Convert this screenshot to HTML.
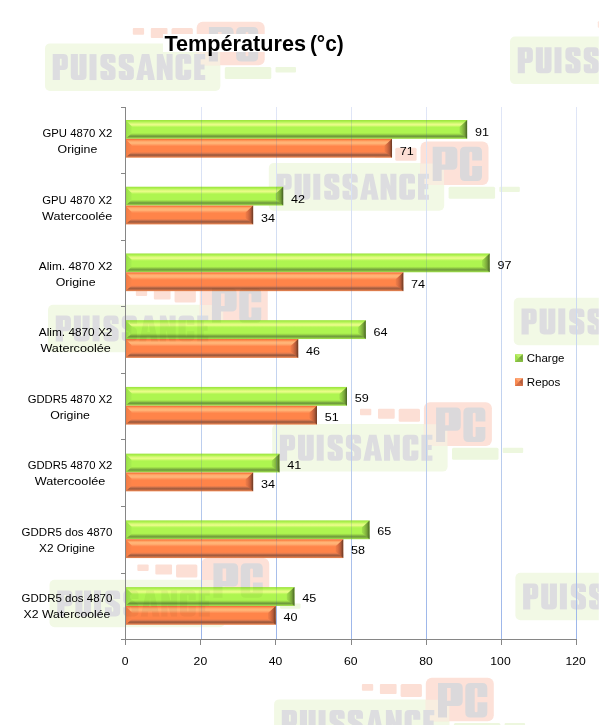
<!DOCTYPE html>
<html><head><meta charset="utf-8"><title>Températures</title>
<style>html,body{margin:0;padding:0;background:#fff}svg{display:block}text{font-family:"Liberation Sans", sans-serif}</style></head><body>
<svg width="600" height="725" viewBox="0 0 600 725">
<defs>
<linearGradient id="gG" x1="0" y1="0" x2="0" y2="1">
<stop offset="0.0000" stop-color="#9ce03c"/>
<stop offset="0.0531" stop-color="#a6ec48"/>
<stop offset="0.1061" stop-color="#b4f455"/>
<stop offset="0.1592" stop-color="#d0f870"/>
<stop offset="0.2387" stop-color="#e8fc88"/>
<stop offset="0.2759" stop-color="#e4fc84"/>
<stop offset="0.3342" stop-color="#c4f864"/>
<stop offset="0.3979" stop-color="#aef550"/>
<stop offset="0.6897" stop-color="#aef550"/>
<stop offset="0.7639" stop-color="#98d446"/>
<stop offset="0.8276" stop-color="#7aaa40"/>
<stop offset="0.8753" stop-color="#6f9a3c"/>
<stop offset="0.9284" stop-color="#88c040"/>
<stop offset="1.0000" stop-color="#a4e652"/>
</linearGradient>
<linearGradient id="gO" x1="0" y1="0" x2="0" y2="1">
<stop offset="0.0000" stop-color="#f06a38"/>
<stop offset="0.0531" stop-color="#fa8045"/>
<stop offset="0.1061" stop-color="#ffa060"/>
<stop offset="0.1751" stop-color="#ffb478"/>
<stop offset="0.2546" stop-color="#ffb274"/>
<stop offset="0.3183" stop-color="#ff9a60"/>
<stop offset="0.3979" stop-color="#ff8449"/>
<stop offset="0.6897" stop-color="#ff8449"/>
<stop offset="0.7639" stop-color="#e07a4e"/>
<stop offset="0.8276" stop-color="#aa6242"/>
<stop offset="0.8753" stop-color="#a05a3c"/>
<stop offset="0.9284" stop-color="#c87048"/>
<stop offset="1.0000" stop-color="#f08850"/>
</linearGradient>
<linearGradient id="rG" x1="0" y1="0" x2="1" y2="0">
<stop offset="0.0000" stop-color="#9fe04c"/>
<stop offset="0.3000" stop-color="#90ca44"/>
<stop offset="0.6500" stop-color="#78a43a"/>
<stop offset="0.8800" stop-color="#587a2c"/>
<stop offset="1.0000" stop-color="#425e22"/>
</linearGradient>
<linearGradient id="rO" x1="0" y1="0" x2="1" y2="0">
<stop offset="0.0000" stop-color="#f27e48"/>
<stop offset="0.3000" stop-color="#de7042"/>
<stop offset="0.6500" stop-color="#b65c3a"/>
<stop offset="0.8800" stop-color="#86462c"/>
<stop offset="1.0000" stop-color="#643420"/>
</linearGradient>
<linearGradient id="lG" x1="0" y1="0" x2="1" y2="0">
<stop offset="0.0000" stop-color="#98d846"/>
<stop offset="0.3000" stop-color="#a0e64c"/>
<stop offset="1.0000" stop-color="#a8ee50"/>
</linearGradient>
<linearGradient id="lO" x1="0" y1="0" x2="1" y2="0">
<stop offset="0.0000" stop-color="#ee7a44"/>
<stop offset="0.3000" stop-color="#f68048"/>
<stop offset="1.0000" stop-color="#fc844a"/>
</linearGradient>
<linearGradient id="gl" gradientUnits="userSpaceOnUse" x1="0" y1="107.00" x2="0" y2="639.50">
<stop offset="0" stop-color="#e0e6f7"/><stop offset="0.25" stop-color="#d3def3"/><stop offset="0.5" stop-color="#c4d4f0"/><stop offset="0.75" stop-color="#b4c8ec"/><stop offset="1" stop-color="#9bb5ea"/>
</linearGradient>
<linearGradient id="sG" x1="0" y1="0" x2="0" y2="1">
<stop offset="0.0000" stop-color="#b6f060"/>
<stop offset="0.5000" stop-color="#98d444"/>
<stop offset="1.0000" stop-color="#6a9a34"/>
</linearGradient>
<linearGradient id="sO" x1="0" y1="0" x2="0" y2="1">
<stop offset="0.0000" stop-color="#ffa070"/>
<stop offset="0.5000" stop-color="#ee7c48"/>
<stop offset="1.0000" stop-color="#a85a38"/>
</linearGradient>
<g id="wmP" transform="translate(-144,32.4)" fill-rule="evenodd">
<path transform="translate(0.00,0) scale(1.0667,1.0097)" d="M0,0H10Q14.25,0 14.25,4.25V11.5Q14.25,15.75 10,15.75H6.75V25.75H0Z M6.75,4.5H8.4V11.25H6.75Z"/>
<path transform="translate(18.10,0) scale(1.0500,1.0097)" d="M0,0H6.75V20Q6.75,21 7.5,21Q8.25,21 8.25,20V0H15V21.5Q15,25.75 10.75,25.75H4.25Q0,25.75 0,21.5Z"/>
<path transform="translate(36.80,0) scale(1.0370,1.0097)" d="M0,0H6.75V25.75H0Z"/>
<path transform="translate(47.70,0) scale(1.0133,1.0097)" d="M4.25,0H10.75Q15,0 15,4.25V8.6H8.25V5.5Q8.25,4.5 7.5,4.5Q6.75,4.5 6.75,5.5V7Q6.75,8.4 8.2,9.3L13,12.2Q15,13.4 15,16V21.5Q15,25.75 10.75,25.75H4.25Q0,25.75 0,21.5V16.8H6.75V20.25Q6.75,21.25 7.5,21.25Q8.25,21.25 8.25,20.25V18Q8.25,16.8 6.9,16L2,13.2Q0,12 0,10V4.25Q0,0 4.25,0Z"/>
<path transform="translate(66.00,0) scale(1.0133,1.0097)" d="M4.25,0H10.75Q15,0 15,4.25V8.6H8.25V5.5Q8.25,4.5 7.5,4.5Q6.75,4.5 6.75,5.5V7Q6.75,8.4 8.2,9.3L13,12.2Q15,13.4 15,16V21.5Q15,25.75 10.75,25.75H4.25Q0,25.75 0,21.5V16.8H6.75V20.25Q6.75,21.25 7.5,21.25Q8.25,21.25 8.25,20.25V18Q8.25,16.8 6.9,16L2,13.2Q0,12 0,10V4.25Q0,0 4.25,0Z"/>
<path transform="translate(83.50,0) scale(1.0389,1.0097)" d="M5.4,0H12.6L18,25.75H11.4L10.8,20.6H7.2L6.6,25.75H0Z M9,7L10.3,16.4H7.7Z"/>
<path transform="translate(104.10,0) scale(1.0032,1.0097)" d="M0,0H6L9.7,12V0H15.75V25.75H9.8L6.05,13.6V25.75H0Z"/>
<path transform="translate(122.80,0) scale(1.0467,1.0097)" d="M4.25,0H10.75Q15,0 15,4.25V9.6H8.25V5.5Q8.25,4.5 7.5,4.5Q6.75,4.5 6.75,5.5V20.25Q6.75,21.25 7.5,21.25Q8.25,21.25 8.25,20.25V15.6H15V21.5Q15,25.75 10.75,25.75H4.25Q0,25.75 0,21.5V4.25Q0,0 4.25,0Z"/>
<path transform="translate(141.50,0) scale(0.9565,1.0097)" d="M0,0H11.5V5H6.75V10.2H10.8V15.2H6.75V20.7H11.5V25.75H0Z"/>
</g>
<g id="wmC" fill-rule="evenodd">
<path d="M12.2,5.3H32Q36.9,5.3 36.9,10.3V23.4Q36.9,28.4 32,28.4H21.2V39.7H12.2Z M21.3,10.4H24.9V23H21.3Z"/>
<path d="M44.5,5.3H56.5Q61.5,5.3 61.5,10.3V19.2H51.7V11.4Q51.7,10.4 50.3,10.4Q48.9,10.4 48.9,11.4V33.6Q48.9,34.6 50.3,34.6Q51.7,34.6 51.7,33.6V24.6H61.5V34.7Q61.5,39.7 56.5,39.7H44.5Q39.5,39.7 39.5,34.7V10.3Q39.5,5.3 44.5,5.3Z"/>
</g>
<g id="wm">
<rect x="-151.7" y="21.7" width="175.4" height="47.6" rx="5" ry="5" fill="#f2f9e5"/>
<rect x="28.1" y="45.4" width="46.5" height="12" rx="1.5" fill="#edf7de"/>
<rect x="78.8" y="45.4" width="20.5" height="5.3" rx="1" fill="#edf7de"/>
<rect x="-63.9" y="6.4" width="11.3" height="6.6" rx="1" fill="#fcdfd5"/>
<rect x="-45.9" y="6.4" width="16.7" height="10" rx="1" fill="#fcdfd5"/>
<rect x="-25.2" y="6.4" width="21.3" height="13" rx="1.5" fill="#fcdfd5"/>
<rect x="0" y="0" width="68" height="43.6" rx="6" ry="6" fill="#fde1d8"/>
<path d="M0,22H18.5Q23.5,22 23.5,27V43.6H6Q0,43.6 0,37.6Z" fill="#f8eee0"/>
<use href="#wmP" fill="#dddde0"/>
<use href="#wmC" fill="#dbd9db"/>
</g>
<clipPath id="barclip">
<rect x="126" y="120.00" width="341.11" height="18.85"/>
<rect x="126" y="138.85" width="266.03" height="18.85"/>
<rect x="126" y="186.73" width="157.17" height="18.85"/>
<rect x="126" y="205.58" width="127.14" height="18.85"/>
<rect x="126" y="253.46" width="363.64" height="18.85"/>
<rect x="126" y="272.31" width="277.30" height="18.85"/>
<rect x="126" y="320.19" width="239.76" height="18.85"/>
<rect x="126" y="339.04" width="172.18" height="18.85"/>
<rect x="126" y="386.92" width="220.99" height="18.85"/>
<rect x="126" y="405.77" width="190.95" height="18.85"/>
<rect x="126" y="453.65" width="153.41" height="18.85"/>
<rect x="126" y="472.50" width="127.14" height="18.85"/>
<rect x="126" y="520.38" width="243.51" height="18.85"/>
<rect x="126" y="539.23" width="217.23" height="18.85"/>
<rect x="126" y="587.11" width="168.43" height="18.85"/>
<rect x="126" y="605.96" width="149.66" height="18.85"/>
</clipPath>
<filter id="soft" filterUnits="userSpaceOnUse" x="-10" y="-10" width="620" height="745"><feGaussianBlur stdDeviation="0.5"/></filter>
</defs>
<rect width="600" height="725" fill="#fff"/>
<g filter="url(#soft)">
<use href="#wm" x="196.70" y="21.70"/>
<use href="#wm" x="661.70" y="14.80"/>
<use href="#wm" x="420.50" y="141.40"/>
<use href="#wm" x="199.75" y="283.00"/>
<use href="#wm" x="665.50" y="276.00"/>
<use href="#wm" x="423.90" y="402.30"/>
<use href="#wm" x="201.25" y="558.00"/>
<use href="#wm" x="667.10" y="551.00"/>
<use href="#wm" x="425.80" y="677.70"/>
</g>
<rect x="598.8" y="0" width="1.2" height="725" fill="#fff"/>
<rect x="163" y="34" width="186" height="18" fill="#fff"/>
<text x="164.4" y="50.9" font-size="21.5" font-weight="bold" fill="#000" textLength="141.6" lengthAdjust="spacingAndGlyphs">Températures</text>
<text x="309.9" y="50.9" font-size="21.5" font-weight="bold" fill="#000" textLength="33.8" lengthAdjust="spacingAndGlyphs">(°c)</text>
<rect x="201" y="107.00" width="1" height="532.50" fill="url(#gl)"/>
<rect x="276" y="107.00" width="1" height="532.50" fill="url(#gl)"/>
<rect x="351" y="107.00" width="1" height="532.50" fill="url(#gl)"/>
<rect x="426" y="107.00" width="1" height="532.50" fill="url(#gl)"/>
<rect x="501" y="107.00" width="1" height="532.50" fill="url(#gl)"/>
<rect x="576" y="107.00" width="1" height="532.50" fill="url(#gl)"/>
<rect x="126.00" y="120.00" width="341.11" height="18.85" fill="url(#gG)"/>
<polygon points="126.00,120.60 131.60,126.30 131.60,133.25 126.00,138.45" fill="url(#lG)"/>
<polygon points="467.11,120.00 467.11,138.85 459.51,132.45 459.51,127.00" fill="url(#rG)"/>
<rect x="126.00" y="138.85" width="266.03" height="18.85" fill="url(#gO)"/>
<polygon points="126.00,139.45 131.60,145.15 131.60,152.10 126.00,157.30" fill="url(#lO)"/>
<polygon points="392.03,138.85 392.03,157.70 384.43,151.30 384.43,145.85" fill="url(#rO)"/>
<rect x="201" y="120.00" width="1" height="18.85" fill="#4060b0" opacity="0.17"/>
<rect x="201" y="138.85" width="1" height="18.85" fill="#4060b0" opacity="0.17"/>
<rect x="276" y="120.00" width="1" height="18.85" fill="#4060b0" opacity="0.17"/>
<rect x="276" y="138.85" width="1" height="18.85" fill="#4060b0" opacity="0.17"/>
<rect x="351" y="120.00" width="1" height="18.85" fill="#4060b0" opacity="0.17"/>
<rect x="351" y="138.85" width="1" height="18.85" fill="#4060b0" opacity="0.17"/>
<rect x="426" y="120.00" width="1" height="18.85" fill="#4060b0" opacity="0.17"/>
<rect x="126.00" y="186.73" width="157.17" height="18.85" fill="url(#gG)"/>
<polygon points="126.00,187.33 131.60,193.03 131.60,199.98 126.00,205.18" fill="url(#lG)"/>
<polygon points="283.17,186.73 283.17,205.58 275.57,199.18 275.57,193.73" fill="url(#rG)"/>
<rect x="126.00" y="205.58" width="127.14" height="18.85" fill="url(#gO)"/>
<polygon points="126.00,206.18 131.60,211.88 131.60,218.83 126.00,224.03" fill="url(#lO)"/>
<polygon points="253.14,205.58 253.14,224.43 245.54,218.03 245.54,212.58" fill="url(#rO)"/>
<rect x="201" y="186.73" width="1" height="18.85" fill="#4060b0" opacity="0.17"/>
<rect x="201" y="205.58" width="1" height="18.85" fill="#4060b0" opacity="0.17"/>
<rect x="276" y="186.73" width="1" height="18.85" fill="#4060b0" opacity="0.17"/>
<rect x="126.00" y="253.46" width="363.64" height="18.85" fill="url(#gG)"/>
<polygon points="126.00,254.06 131.60,259.76 131.60,266.71 126.00,271.91" fill="url(#lG)"/>
<polygon points="489.64,253.46 489.64,272.31 482.04,265.91 482.04,260.46" fill="url(#rG)"/>
<rect x="126.00" y="272.31" width="277.30" height="18.85" fill="url(#gO)"/>
<polygon points="126.00,272.91 131.60,278.61 131.60,285.56 126.00,290.76" fill="url(#lO)"/>
<polygon points="403.30,272.31 403.30,291.16 395.70,284.76 395.70,279.31" fill="url(#rO)"/>
<rect x="201" y="253.46" width="1" height="18.85" fill="#4060b0" opacity="0.17"/>
<rect x="201" y="272.31" width="1" height="18.85" fill="#4060b0" opacity="0.17"/>
<rect x="276" y="253.46" width="1" height="18.85" fill="#4060b0" opacity="0.17"/>
<rect x="276" y="272.31" width="1" height="18.85" fill="#4060b0" opacity="0.17"/>
<rect x="351" y="253.46" width="1" height="18.85" fill="#4060b0" opacity="0.17"/>
<rect x="351" y="272.31" width="1" height="18.85" fill="#4060b0" opacity="0.17"/>
<rect x="426" y="253.46" width="1" height="18.85" fill="#4060b0" opacity="0.17"/>
<rect x="126.00" y="320.19" width="239.76" height="18.85" fill="url(#gG)"/>
<polygon points="126.00,320.79 131.60,326.49 131.60,333.44 126.00,338.64" fill="url(#lG)"/>
<polygon points="365.76,320.19 365.76,339.04 358.16,332.64 358.16,327.19" fill="url(#rG)"/>
<rect x="126.00" y="339.04" width="172.18" height="18.85" fill="url(#gO)"/>
<polygon points="126.00,339.64 131.60,345.34 131.60,352.29 126.00,357.49" fill="url(#lO)"/>
<polygon points="298.18,339.04 298.18,357.89 290.58,351.49 290.58,346.04" fill="url(#rO)"/>
<rect x="201" y="320.19" width="1" height="18.85" fill="#4060b0" opacity="0.17"/>
<rect x="201" y="339.04" width="1" height="18.85" fill="#4060b0" opacity="0.17"/>
<rect x="276" y="320.19" width="1" height="18.85" fill="#4060b0" opacity="0.17"/>
<rect x="276" y="339.04" width="1" height="18.85" fill="#4060b0" opacity="0.17"/>
<rect x="351" y="320.19" width="1" height="18.85" fill="#4060b0" opacity="0.17"/>
<rect x="126.00" y="386.92" width="220.99" height="18.85" fill="url(#gG)"/>
<polygon points="126.00,387.52 131.60,393.22 131.60,400.17 126.00,405.37" fill="url(#lG)"/>
<polygon points="346.99,386.92 346.99,405.77 339.39,399.37 339.39,393.92" fill="url(#rG)"/>
<rect x="126.00" y="405.77" width="190.95" height="18.85" fill="url(#gO)"/>
<polygon points="126.00,406.37 131.60,412.07 131.60,419.02 126.00,424.22" fill="url(#lO)"/>
<polygon points="316.95,405.77 316.95,424.62 309.35,418.22 309.35,412.77" fill="url(#rO)"/>
<rect x="201" y="386.92" width="1" height="18.85" fill="#4060b0" opacity="0.17"/>
<rect x="201" y="405.77" width="1" height="18.85" fill="#4060b0" opacity="0.17"/>
<rect x="276" y="386.92" width="1" height="18.85" fill="#4060b0" opacity="0.17"/>
<rect x="276" y="405.77" width="1" height="18.85" fill="#4060b0" opacity="0.17"/>
<rect x="126.00" y="453.65" width="153.41" height="18.85" fill="url(#gG)"/>
<polygon points="126.00,454.25 131.60,459.95 131.60,466.90 126.00,472.10" fill="url(#lG)"/>
<polygon points="279.41,453.65 279.41,472.50 271.81,466.10 271.81,460.65" fill="url(#rG)"/>
<rect x="126.00" y="472.50" width="127.14" height="18.85" fill="url(#gO)"/>
<polygon points="126.00,473.10 131.60,478.80 131.60,485.75 126.00,490.95" fill="url(#lO)"/>
<polygon points="253.14,472.50 253.14,491.35 245.54,484.95 245.54,479.50" fill="url(#rO)"/>
<rect x="201" y="453.65" width="1" height="18.85" fill="#4060b0" opacity="0.17"/>
<rect x="201" y="472.50" width="1" height="18.85" fill="#4060b0" opacity="0.17"/>
<rect x="276" y="453.65" width="1" height="18.85" fill="#4060b0" opacity="0.17"/>
<rect x="126.00" y="520.38" width="243.51" height="18.85" fill="url(#gG)"/>
<polygon points="126.00,520.98 131.60,526.68 131.60,533.63 126.00,538.83" fill="url(#lG)"/>
<polygon points="369.51,520.38 369.51,539.23 361.91,532.83 361.91,527.38" fill="url(#rG)"/>
<rect x="126.00" y="539.23" width="217.23" height="18.85" fill="url(#gO)"/>
<polygon points="126.00,539.83 131.60,545.53 131.60,552.48 126.00,557.68" fill="url(#lO)"/>
<polygon points="343.23,539.23 343.23,558.08 335.63,551.68 335.63,546.23" fill="url(#rO)"/>
<rect x="201" y="520.38" width="1" height="18.85" fill="#4060b0" opacity="0.17"/>
<rect x="201" y="539.23" width="1" height="18.85" fill="#4060b0" opacity="0.17"/>
<rect x="276" y="520.38" width="1" height="18.85" fill="#4060b0" opacity="0.17"/>
<rect x="276" y="539.23" width="1" height="18.85" fill="#4060b0" opacity="0.17"/>
<rect x="351" y="520.38" width="1" height="18.85" fill="#4060b0" opacity="0.17"/>
<rect x="126.00" y="587.11" width="168.43" height="18.85" fill="url(#gG)"/>
<polygon points="126.00,587.71 131.60,593.41 131.60,600.36 126.00,605.56" fill="url(#lG)"/>
<polygon points="294.43,587.11 294.43,605.96 286.83,599.56 286.83,594.11" fill="url(#rG)"/>
<rect x="126.00" y="605.96" width="149.66" height="18.85" fill="url(#gO)"/>
<polygon points="126.00,606.56 131.60,612.26 131.60,619.21 126.00,624.41" fill="url(#lO)"/>
<polygon points="275.66,605.96 275.66,624.81 268.06,618.41 268.06,612.96" fill="url(#rO)"/>
<rect x="201" y="587.11" width="1" height="18.85" fill="#4060b0" opacity="0.17"/>
<rect x="201" y="605.96" width="1" height="18.85" fill="#4060b0" opacity="0.17"/>
<rect x="276" y="587.11" width="1" height="18.85" fill="#4060b0" opacity="0.17"/>
<g clip-path="url(#barclip)" fill="#1c2a10" opacity="0.05">
<use href="#wmP" x="196.70" y="21.70"/><use href="#wmC" x="196.70" y="21.70"/>
<use href="#wmP" x="661.70" y="14.80"/><use href="#wmC" x="661.70" y="14.80"/>
<use href="#wmP" x="420.50" y="141.40"/><use href="#wmC" x="420.50" y="141.40"/>
<use href="#wmP" x="199.75" y="283.00"/><use href="#wmC" x="199.75" y="283.00"/>
<use href="#wmP" x="665.50" y="276.00"/><use href="#wmC" x="665.50" y="276.00"/>
<use href="#wmP" x="423.90" y="402.30"/><use href="#wmC" x="423.90" y="402.30"/>
<use href="#wmP" x="201.25" y="558.00"/><use href="#wmC" x="201.25" y="558.00"/>
<use href="#wmP" x="667.10" y="551.00"/><use href="#wmC" x="667.10" y="551.00"/>
<use href="#wmP" x="425.80" y="677.70"/><use href="#wmC" x="425.80" y="677.70"/>
</g>
<rect x="125" y="107.00" width="1" height="533.00" fill="#868686"/>
<rect x="121" y="639" width="456" height="1" fill="#868686"/>
<rect x="121" y="107" width="4.5" height="1" fill="#868686"/>
<rect x="121" y="173" width="4.5" height="1" fill="#868686"/>
<rect x="121" y="240" width="4.5" height="1" fill="#868686"/>
<rect x="121" y="306" width="4.5" height="1" fill="#868686"/>
<rect x="121" y="373" width="4.5" height="1" fill="#868686"/>
<rect x="121" y="439" width="4.5" height="1" fill="#868686"/>
<rect x="121" y="506" width="4.5" height="1" fill="#868686"/>
<rect x="121" y="573" width="4.5" height="1" fill="#868686"/>
<rect x="125" y="640" width="1" height="5" fill="#868686"/>
<rect x="200" y="640" width="1" height="5" fill="#868686"/>
<rect x="275" y="640" width="1" height="5" fill="#868686"/>
<rect x="351" y="640" width="1" height="5" fill="#868686"/>
<rect x="426" y="640" width="1" height="5" fill="#868686"/>
<rect x="501" y="640" width="1" height="5" fill="#868686"/>
<rect x="576" y="640" width="1" height="5" fill="#868686"/>
<text x="42.50" y="137.10" font-size="11.7" font-weight="normal" fill="#000" textLength="69.90" lengthAdjust="spacingAndGlyphs">GPU 4870 X2</text>
<text x="57.55" y="153.10" font-size="11.7" font-weight="normal" fill="#000" textLength="39.80" lengthAdjust="spacingAndGlyphs">Origine</text>
<text x="42.25" y="203.52" font-size="11.7" font-weight="normal" fill="#000" textLength="69.90" lengthAdjust="spacingAndGlyphs">GPU 4870 X2</text>
<text x="42.00" y="219.52" font-size="11.7" font-weight="normal" fill="#000" textLength="70.40" lengthAdjust="spacingAndGlyphs">Watercoolée</text>
<text x="38.85" y="269.94" font-size="11.7" font-weight="normal" fill="#000" textLength="73.55" lengthAdjust="spacingAndGlyphs">Alim. 4870 X2</text>
<text x="55.73" y="285.94" font-size="11.7" font-weight="normal" fill="#000" textLength="39.80" lengthAdjust="spacingAndGlyphs">Origine</text>
<text x="38.85" y="336.36" font-size="11.7" font-weight="normal" fill="#000" textLength="73.55" lengthAdjust="spacingAndGlyphs">Alim. 4870 X2</text>
<text x="40.43" y="352.36" font-size="11.7" font-weight="normal" fill="#000" textLength="70.40" lengthAdjust="spacingAndGlyphs">Watercoolée</text>
<text x="27.70" y="402.78" font-size="11.7" font-weight="normal" fill="#000" textLength="84.70" lengthAdjust="spacingAndGlyphs">GDDR5 4870 X2</text>
<text x="50.15" y="418.78" font-size="11.7" font-weight="normal" fill="#000" textLength="39.80" lengthAdjust="spacingAndGlyphs">Origine</text>
<text x="27.70" y="469.20" font-size="11.7" font-weight="normal" fill="#000" textLength="84.70" lengthAdjust="spacingAndGlyphs">GDDR5 4870 X2</text>
<text x="34.85" y="485.20" font-size="11.7" font-weight="normal" fill="#000" textLength="70.40" lengthAdjust="spacingAndGlyphs">Watercoolée</text>
<text x="21.60" y="535.62" font-size="11.7" font-weight="normal" fill="#000" textLength="90.80" lengthAdjust="spacingAndGlyphs">GDDR5 dos 4870</text>
<text x="39.10" y="551.62" font-size="11.7" font-weight="normal" fill="#000" textLength="55.80" lengthAdjust="spacingAndGlyphs">X2 Origine</text>
<text x="21.60" y="602.04" font-size="11.7" font-weight="normal" fill="#000" textLength="90.80" lengthAdjust="spacingAndGlyphs">GDDR5 dos 4870</text>
<text x="23.60" y="618.04" font-size="11.7" font-weight="normal" fill="#000" textLength="86.80" lengthAdjust="spacingAndGlyphs">X2 Watercoolée</text>
<text x="121.82" y="664.90" font-size="11.8" font-weight="normal" fill="#000" textLength="6.76" lengthAdjust="spacingAndGlyphs">0</text>
<text x="193.64" y="664.90" font-size="11.8" font-weight="normal" fill="#000" textLength="13.52" lengthAdjust="spacingAndGlyphs">20</text>
<text x="268.84" y="664.90" font-size="11.8" font-weight="normal" fill="#000" textLength="13.52" lengthAdjust="spacingAndGlyphs">40</text>
<text x="344.04" y="664.90" font-size="11.8" font-weight="normal" fill="#000" textLength="13.52" lengthAdjust="spacingAndGlyphs">60</text>
<text x="419.24" y="664.90" font-size="11.8" font-weight="normal" fill="#000" textLength="13.52" lengthAdjust="spacingAndGlyphs">80</text>
<text x="490.36" y="664.90" font-size="11.8" font-weight="normal" fill="#000" textLength="20.28" lengthAdjust="spacingAndGlyphs">100</text>
<text x="565.56" y="664.90" font-size="11.8" font-weight="normal" fill="#000" textLength="20.28" lengthAdjust="spacingAndGlyphs">120</text>
<text x="474.91" y="136.00" font-size="11.8" font-weight="normal" fill="#000" textLength="14.00" lengthAdjust="spacingAndGlyphs">91</text>
<text x="399.83" y="155.00" font-size="11.8" font-weight="normal" fill="#000" textLength="14.00" lengthAdjust="spacingAndGlyphs">71</text>
<text x="290.97" y="202.54" font-size="11.8" font-weight="normal" fill="#000" textLength="14.00" lengthAdjust="spacingAndGlyphs">42</text>
<text x="260.94" y="221.54" font-size="11.8" font-weight="normal" fill="#000" textLength="14.00" lengthAdjust="spacingAndGlyphs">34</text>
<text x="497.44" y="269.08" font-size="11.8" font-weight="normal" fill="#000" textLength="14.00" lengthAdjust="spacingAndGlyphs">97</text>
<text x="411.10" y="288.08" font-size="11.8" font-weight="normal" fill="#000" textLength="14.00" lengthAdjust="spacingAndGlyphs">74</text>
<text x="373.56" y="335.62" font-size="11.8" font-weight="normal" fill="#000" textLength="14.00" lengthAdjust="spacingAndGlyphs">64</text>
<text x="305.98" y="354.62" font-size="11.8" font-weight="normal" fill="#000" textLength="14.00" lengthAdjust="spacingAndGlyphs">46</text>
<text x="354.79" y="402.16" font-size="11.8" font-weight="normal" fill="#000" textLength="14.00" lengthAdjust="spacingAndGlyphs">59</text>
<text x="324.75" y="421.16" font-size="11.8" font-weight="normal" fill="#000" textLength="14.00" lengthAdjust="spacingAndGlyphs">51</text>
<text x="287.21" y="468.70" font-size="11.8" font-weight="normal" fill="#000" textLength="14.00" lengthAdjust="spacingAndGlyphs">41</text>
<text x="260.94" y="487.70" font-size="11.8" font-weight="normal" fill="#000" textLength="14.00" lengthAdjust="spacingAndGlyphs">34</text>
<text x="377.31" y="535.24" font-size="11.8" font-weight="normal" fill="#000" textLength="14.00" lengthAdjust="spacingAndGlyphs">65</text>
<text x="351.03" y="554.24" font-size="11.8" font-weight="normal" fill="#000" textLength="14.00" lengthAdjust="spacingAndGlyphs">58</text>
<text x="302.23" y="601.78" font-size="11.8" font-weight="normal" fill="#000" textLength="14.00" lengthAdjust="spacingAndGlyphs">45</text>
<text x="283.46" y="620.78" font-size="11.8" font-weight="normal" fill="#000" textLength="14.00" lengthAdjust="spacingAndGlyphs">40</text>
<rect x="515.00" y="354.20" width="7.80" height="7.80" fill="#a2e04e"/>
<polygon points="515.00,354.20 522.80,354.20 518.90,358.10" fill="#bcee6c"/>
<polygon points="522.80,354.20 522.80,362.00 518.90,358.10" fill="#76a63a"/>
<polygon points="515.00,362.00 522.80,362.00 518.90,358.10" fill="#86bc44"/>
<text x="526.80" y="362.40" font-size="11.5" font-weight="normal" fill="#000" textLength="37.60" lengthAdjust="spacingAndGlyphs">Charge</text>
<rect x="515.00" y="378.20" width="7.80" height="7.80" fill="#f88a52"/>
<polygon points="515.00,378.20 522.80,378.20 518.90,382.10" fill="#ffa674"/>
<polygon points="522.80,378.20 522.80,386.00 518.90,382.10" fill="#b45e3e"/>
<polygon points="515.00,386.00 522.80,386.00 518.90,382.10" fill="#d67046"/>
<text x="526.80" y="386.40" font-size="11.5" font-weight="normal" fill="#000" textLength="33.60" lengthAdjust="spacingAndGlyphs">Repos</text>
</svg></body></html>
